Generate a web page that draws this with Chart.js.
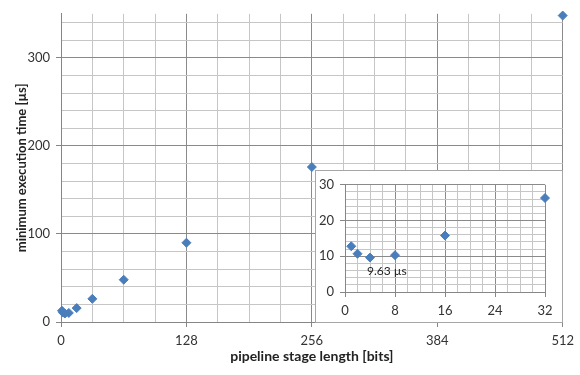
<!DOCTYPE html>
<html>
<head>
<meta charset="utf-8">
<script src="https://cdn.jsdelivr.net/npm/chart.js@4.4.0/dist/chart.umd.min.js"></script>
<style>
  body { margin: 0; background: #fff; }
  #wrap { position: relative; width: 580px; height: 375px; }
  #inset { position: absolute; left: 315px; top: 170px; width: 246px; height: 151px;
           border: 1px solid #a6a6a6; background: #fff; }
</style>
</head>
<body>
<div id="wrap">
  <canvas id="mainChart" width="580" height="375"></canvas>
  <div id="inset"><canvas id="insetChart" width="246" height="151"></canvas></div>
</div>
<script>
// pipeline stage length [bits] vs minimum execution time [us]
const stageBits = [1, 2, 4, 8, 16, 32, 64, 128, 256, 512];
const execTime = [12.8, 10.7, 9.63, 10.3, 15.8, 26.3, 48, 90, 176, 348];

const mainXLabels = [0, 128, 256, 384, 512];
const mainYLabels = [0, 100, 200, 300];
const insetXLabels = [0, 8, 16, 24, 32];
const insetYLabels = [0, 10, 20, 30];
const minLabel = '9.63 µs';

const blue = '#4a7ebb';
const font = 'Lato';

function gridTicks(max, step) {
  let t = [];
  for (let v = 0; v <= max + 1e-9; v += step) t.push({ value: v });
  return t;
}

function axis(min, max, step, labels, fit, extra) {
  return Object.assign({
    type: 'linear', min: min, max: max,
    afterBuildTicks: s => { s.ticks = gridTicks(max, step); },
    afterFit: fit,
    border: { color: '#868686' },
    grid: {
      color: c => (c.tick && labels.includes(c.tick.value)) ? '#8a8a8a' : '#c6c6c6',
      tickColor: c => (c.tick && labels.includes(c.tick.value)) ? '#868686' : 'rgba(0,0,0,0)',
      tickLength: 5
    },
    ticks: {
      autoSkip: false, maxRotation: 0, padding: 6, color: '#333',
      font: { family: font, size: 13 },
      callback: v => labels.includes(v) ? String(v) : ''
    }
  }, extra || {});
}

var pts = stageBits.map((x, i) => ({ x: x, y: execTime[i] }));

var mainChart = new Chart(document.getElementById('mainChart'), {
  type: 'scatter',
  data: { datasets: [{ data: pts, pointStyle: 'rectRot', pointRadius: 4.5,
    backgroundColor: blue, borderColor: blue, clip: false }] },
  options: {
    responsive: false, animation: false,
    layout: { padding: { left: 10, top: 10, right: 17, bottom: 6 } },
    plugins: { legend: { display: false }, tooltip: { enabled: false } },
    scales: {
      x: axis(0, 512, 32, mainXLabels, s => { s.height = 47; }, {
        title: { display: true, text: 'pipeline stage length [bits]', color: '#222',
          padding: 4, font: { family: font, size: 14, weight: 'bold' } } }),
      y: axis(0, 350, 20, mainYLabels, s => { s.width = 51; }, {
        title: { display: true, text: 'minimum execution time [µs]', color: '#222',
          padding: 4, font: { family: font, size: 13, weight: 'bold' } } })
    }
  }
});

var minNote = {
  id: 'minNote',
  afterDraw: function(chart) {
    var ctx = chart.ctx;
    var x = chart.scales.x.getPixelForValue(stageBits[2]);
    var y = chart.scales.y.getPixelForValue(execTime[2]);
    ctx.save();
    ctx.font = '12px ' + font;
    ctx.fillStyle = '#222';
    ctx.textAlign = 'left';
    ctx.textBaseline = 'middle';
    ctx.fillText(minLabel, x - 3, y + 14);
    ctx.restore();
  }
};

var insetChart = new Chart(document.getElementById('insetChart'), {
  type: 'scatter',
  data: { datasets: [{ data: pts.filter(p => p.x <= 32), pointStyle: 'rectRot', pointRadius: 4.5,
    backgroundColor: blue, borderColor: blue, clip: false }] },
  options: {
    responsive: false, animation: false,
    layout: { padding: { left: 0, top: 12, right: 17, bottom: 0 } },
    plugins: { legend: { display: false }, tooltip: { enabled: false } },
    scales: {
      x: axis(0, 32, 2, insetXLabels, s => { s.height = 30; }),
      y: axis(0, 30, 2, insetYLabels, s => { s.width = 29; })
    }
  },
  plugins: [minNote]
});
</script>
</body>
</html>
